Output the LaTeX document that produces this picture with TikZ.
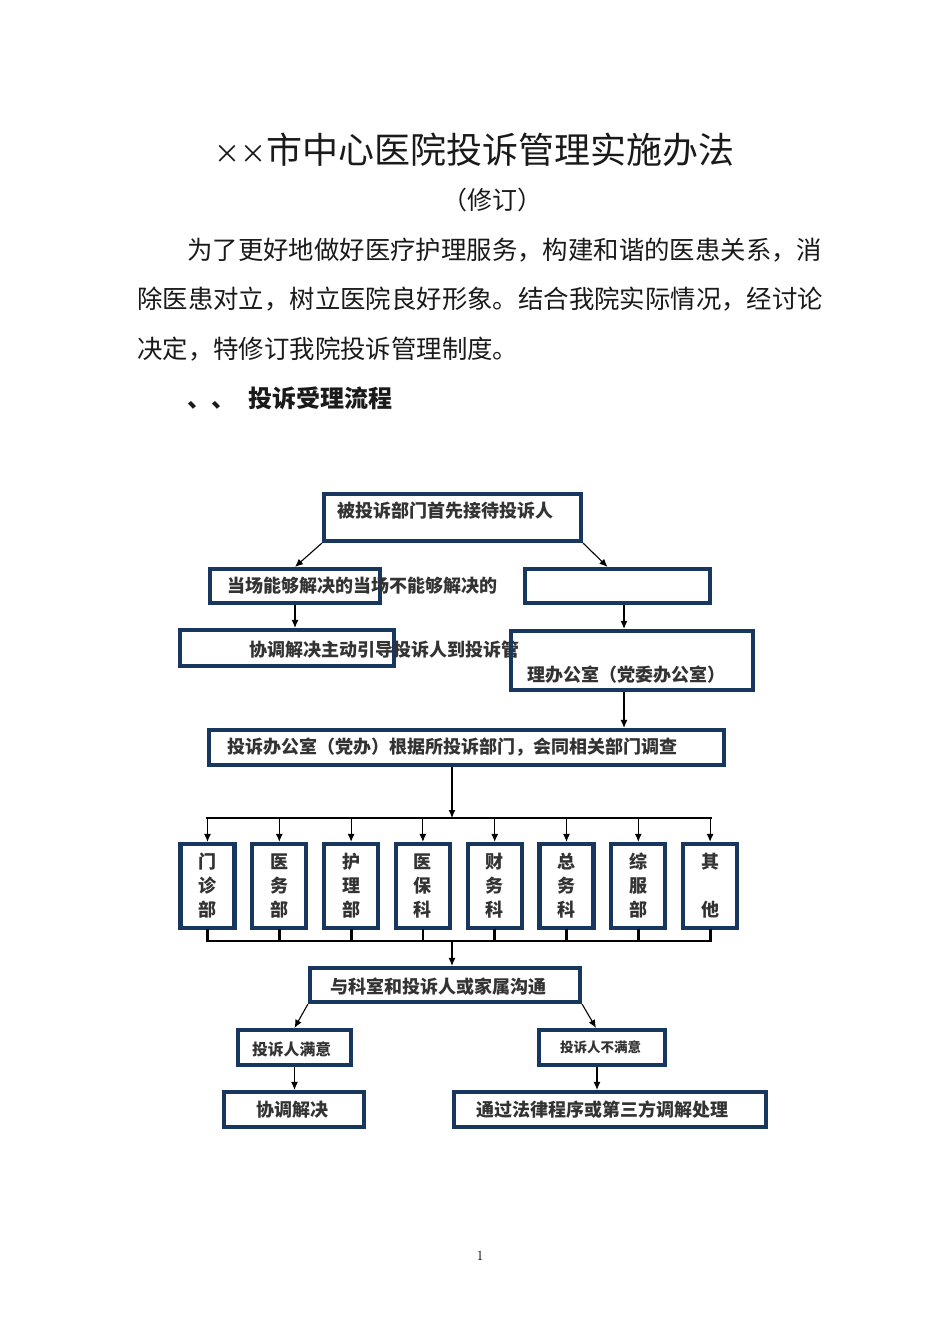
\documentclass[tikz,border=0pt]{standalone}
\usepackage{fontspec}
\newfontfamily\cjk{Noto Sans CJK SC}
\usetikzlibrary{arrows.meta,positioning}
\definecolor{boxcol}{HTML}{17375E}
\definecolor{labelcol}{HTML}{333333}
\definecolor{pagecol}{HTML}{1A1A1A}
\tikzstyle{flow} = [-{Latex[length=8pt,width=7pt]}, black, line width=1.1pt]
\tikzstyle{bus} = [black, line width=2.8pt, line cap=rect]
\tikzset{
  flow box/.style 2 args = {
    shape = rectangle,
    draw = boxcol,
    line width = 4.2pt,
    inner sep = 0pt,
    minimum width = #1,
    minimum height = #2,
    },
  dept box/.style = {
    flow box={54pt}{84pt},
    align = center,
    text = labelcol,
    font = \cjk\bfseries\fontsize{18}{24}\selectfont,
    },
  box text/.style = {
    inner sep = 0pt,
    text = labelcol,
    font = \cjk\bfseries\fontsize{#1}{#1}\selectfont,
    },
  box text/.default = 18,
  page text/.style = {
    inner sep = 0pt,
    text = pagecol,
    font = \cjk\fontsize{#1}{#1}\selectfont,
    },
}

\begin{document}
\begin{tikzpicture}[x=1pt, y=-1pt]
    \useasboundingbox[fill=white] (0,0) rectangle (950,1344);

    % page text
    \node[page text=36] (title) at (474,150) {{\fontsize{26}{26}\selectfont ××}市中心医院投诉管理实施办法};
    \node[page text=25] (subtitle) at (492,200) {（修订）};
    \node[page text=25.4, anchor=west] (line1) at (187,250) {为了更好地做好医疗护理服务，构建和谐的医患关系，消};
    \node[page text=25.4, anchor=west] (line2) at (137,299) {除医患对立，树立医院良好形象。结合我院实际情况，经讨论};
    \node[page text=25.4, anchor=west] (line3) at (137,349) {决定，特修订我院投诉管理制度。};
    \node[box text=24, text=pagecol, anchor=west] (heading) at (187,398) {、、\hspace{13pt}投诉受理流程};

    % reception
    \node[flow box={257pt}{47pt}] (recv) at (452.5,517.5) {};
    \node[box text, right=15pt of recv.west, yshift=6.5pt] (t-recv) {被投诉部门首先接待投诉人};

    \node[flow box={170pt}{34pt}] (solve) at (295,586) {};
    \node[box text, right=19pt of solve.west] (t-solve) {当场能够解决的当场不能够解决的};
    \node[flow box={185pt}{34pt}] (refer) at (617.5,586) {};

    \node[flow box={214pt}{36pt}] (assist) at (287,648) {};
    \node[box text, right=71pt of assist.west, yshift=-2pt] (t-assist) {协调解决主动引导投诉人到投诉管};
    \node[flow box={242pt}{59pt}] (office) at (632,660.5) {};
    \node[box text, right=18pt of office.west, yshift=-14.5pt] (t-office) {理办公室（党委办公室）};

    % investigation
    \node[flow box={515pt}{35pt}] (invest) at (466.5,747.5) {};
    \node[box text, right=20pt of invest.west] (t-invest) {投诉办公室（党办）根据所投诉部门，会同相关部门调查};

    \foreach \name [count=\i] in {{门\\诊\\部},{医\\务\\部},{护\\理\\部},{医\\保\\科},%
        {财\\务\\科},{总\\务\\科},{综\\服\\部},{其\\~\\他}}
        \node[dept box] (dept\i) at ({207.5+71.8*(\i-1)},886) {\name};

    \coordinate (split) at (452,818);
    \coordinate (join) at (452,941);

    % communication
    \node[flow box={270pt}{34pt}] (talk) at (445,985) {};
    \node[box text, right=22pt of talk.west, yshift=-2pt] (t-talk) {与科室和投诉人或家属沟通};

    \node[flow box={113pt}{35pt}] (pleased) at (294.5,1047.5) {};
    \node[box text=15.8, right=16pt of pleased.west, yshift=-1.5pt] (t-pleased) {投诉人满意};
    \node[flow box={126pt}{35pt}] (displeased) at (602,1047.5) {};
    \node[box text=13.5, right=23pt of displeased.west] (t-displeased) {投诉人不满意};

    \node[flow box={140pt}{35pt}] (settle) at (294,1109.5) {};
    \node[box text, right=34pt of settle.west] (t-settle) {协调解决};
    \node[flow box={312pt}{35pt}] (legal) at (610,1109.5) {};
    \node[box text, right=24pt of legal.west] (t-legal) {通过法律程序或第三方调解处理};

    \node[inner sep=0pt, font=\fontsize{14}{14}\selectfont] (pagenum) at (480,1256) {1};

    % Paths
    \coordinate (refer-out) at ([xshift=6.5pt]refer.south);
    \coordinate (office-out) at ([xshift=-8pt]office.south);
    \coordinate (displeased-out) at ([xshift=-5pt]displeased.south);

    \draw[flow] (recv.south west) -- (solve.north);
    \draw[flow] (recv.south east) -- ([xshift=-10pt]refer.north);
    \draw[flow] (solve.south) -- (solve.south |- assist.north);
    \draw[flow] (refer-out) -- (refer-out |- office.north);
    \draw[flow] (office-out) -- (office-out |- invest.north);

    \draw[flow] (split |- invest.south) -- (split);
    \draw[bus] (split -| dept1) -- (split -| dept8);
    \foreach \i in {1,...,8} {
        \draw[flow] (split -| dept\i) -- (dept\i.north);
        \draw[bus] (dept\i.south) -- (join -| dept\i);
    }
    \draw[bus] (join -| dept1) -- (join -| dept8);
    \draw[flow] (join) -- (join |- talk.north);

    \draw[flow] (talk.south west) -- (pleased.north);
    \draw[flow] (talk.south east) -- ([xshift=-6pt]displeased.north);
    \draw[flow] (pleased.south) -- (pleased.south |- settle.north);
    \draw[flow] (displeased-out) -- (displeased-out |- legal.north);
\end{tikzpicture}
\end{document}
